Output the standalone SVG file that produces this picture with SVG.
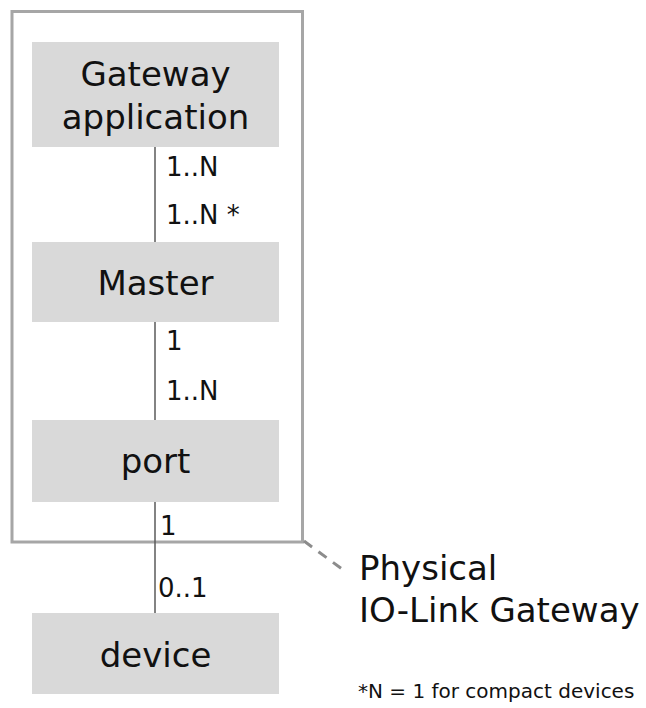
<svg xmlns="http://www.w3.org/2000/svg" width="646" height="708" viewBox="0 0 646 708">
  <style>
    .box { fill: #d9d9d9; }
    .frame { fill: none; stroke: #a6a6a6; stroke-width: 3; }
    .link { stroke: #5a5a5a; stroke-width: 1.5; fill: none; }
    .lead { stroke: #8c8c8c; stroke-width: 3; stroke-dasharray: 10 8; fill: none; }
    text { font-family: "DejaVu Sans", "Liberation Sans", sans-serif; fill: #111; }
    .name { font-size: 34px; text-anchor: middle; }
    .mult { font-size: 26px; }
    .note { font-size: 20px; }
  </style>

  <!-- gateway boundary -->
  <g id="gateway-frame">
    <rect class="frame" x="12" y="11.5" width="290.5" height="530.5"/>
  </g>

  <!-- associations between the blocks -->
  <g id="connectors">
    <line class="link" x1="155" y1="147" x2="155" y2="242"/>
    <line class="link" x1="155" y1="322" x2="155" y2="420"/>
    <line class="link" x1="155" y1="502" x2="155" y2="613"/>
    <line class="lead" x1="304" y1="541" x2="346" y2="572"/>
    <text class="mult" x="166" y="176">1..N</text>
    <text class="mult" x="166" y="224">1..N *</text>
    <text class="mult" x="166" y="350">1</text>
    <text class="mult" x="166" y="400">1..N</text>
    <text class="mult" x="160" y="535">1</text>
    <text class="mult" x="158" y="597">0..1</text>
  </g>

  <g id="gateway-application">
    <rect class="box" x="32" y="42" width="247" height="105"/>
    <text class="name" x="155.5" y="86">Gateway</text>
    <text class="name" x="155.5" y="129">application</text>
  </g>

  <g id="master">
    <rect class="box" x="32" y="242" width="247" height="80"/>
    <text class="name" x="155.5" y="295">Master</text>
  </g>

  <g id="port">
    <rect class="box" x="32" y="420" width="247" height="82"/>
    <text class="name" x="155.5" y="473">port</text>
  </g>

  <g id="device">
    <rect class="box" x="32" y="613" width="247" height="81"/>
    <text class="name" x="155.5" y="667">device</text>
  </g>

  <g id="gateway-label">
    <text class="name" style="text-anchor:start" x="359" y="580">Physical</text>
    <text class="name" style="text-anchor:start" x="359" y="622">IO-Link Gateway</text>
  </g>

  <g id="footnote">
    <text class="note" x="358" y="698">*N = 1 for compact devices</text>
  </g>
</svg>
